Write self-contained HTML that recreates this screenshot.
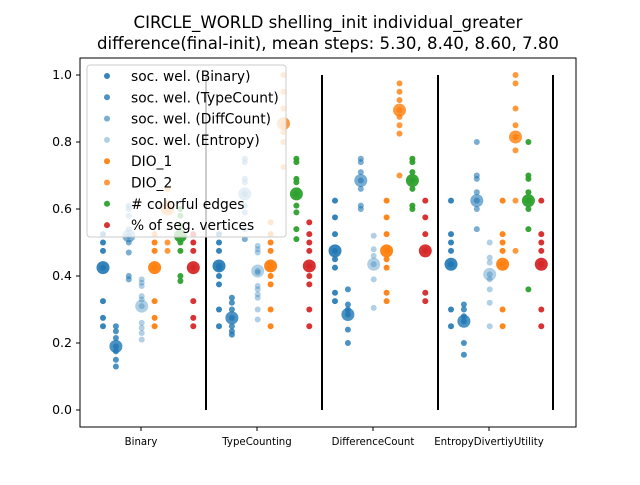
<!DOCTYPE html>
<html><head><meta charset="utf-8"><style>
body{margin:0;background:#fff;}
svg text{font-family:"DejaVu Sans","Liberation Sans",sans-serif;fill:#000;}
</style></head><body>
<svg id="chart" width="640" height="480" xmlns="http://www.w3.org/2000/svg">
<rect width="640" height="480" fill="#fff"/>
<text x="328" y="28" font-size="16.6" text-anchor="middle">CIRCLE_WORLD shelling_init individual_greater</text>
<text x="328" y="49" font-size="16.6" text-anchor="middle">difference(final-init), mean steps: 5.30, 8.40, 8.60, 7.80</text>
<g id="marks"></g>
<rect x="80" y="58" width="496" height="369" fill="none" stroke="#000" stroke-width="1"/>
<g id="axes"></g>
<g id="legend"></g>
</svg>
<script>
const groups = ["Binary","TypeCounting","DifferenceCount","EntropyDivertiyUtility"];
const seriesNames = ["soc. wel. (Binary)","soc. wel. (TypeCount)","soc. wel. (DiffCount)","soc. wel. (Entropy)","DIO_1","DIO_2","# colorful edges","% of seg. vertices"];
const yTicks = [0.0,0.2,0.4,0.6,0.8,1.0];
const yTickLabels = ["0.0","0.2","0.4","0.6","0.8","1.0"];
const valsBinary = [
 [0.525,0.5,0.475,0.425,0.325,0.275,0.25],
 [0.25,0.235,0.215,0.19,0.175,0.15,0.13],
 [0.61,0.6,0.58,0.54,0.52,0.5,0.47,0.4,0.39],
 [0.39,0.38,0.37,0.34,0.33,0.31,0.26,0.245,0.23,0.21],
 [0.525,0.5,0.475,0.425,0.325,0.275,0.25],
 [0.66,0.62,0.6,0.5,0.475],
 [0.6,0.58,0.55,0.5,0.475,0.4,0.385],
 [0.525,0.5,0.475,0.425,0.325,0.275,0.25]];
const valsTypeCounting = [
 [0.525,0.5,0.475,0.43,0.425,0.4,0.375,0.3,0.25],
 [0.335,0.32,0.3,0.275,0.25,0.235,0.225],
 [0.75,0.74,0.69,0.68,0.645,0.61,0.59,0.54,0.51],
 [0.49,0.48,0.47,0.415,0.41,0.37,0.36,0.345,0.335,0.3,0.27],
 [0.56,0.525,0.5,0.475,0.43,0.425,0.4,0.375,0.3,0.25],
 [1.0,0.95,0.9,0.855,0.845,0.83,0.8,0.725],
 [0.75,0.74,0.69,0.68,0.645,0.61,0.59,0.54,0.51],
 [0.56,0.525,0.5,0.475,0.43,0.4,0.375,0.3,0.25]];
const valsDifferenceCount = [
 [0.625,0.575,0.525,0.475,0.45,0.425,0.35,0.325],
 [0.36,0.315,0.3,0.285,0.24,0.2],
 [0.75,0.74,0.71,0.685,0.66,0.61,0.6],
 [0.52,0.48,0.46,0.435,0.39,0.305],
 [0.625,0.575,0.525,0.475,0.45,0.425,0.35,0.325],
 [0.975,0.95,0.925,0.895,0.875,0.85,0.825,0.7],
 [0.75,0.74,0.71,0.685,0.66,0.61,0.6],
 [0.625,0.575,0.525,0.475,0.35,0.325]];
const valsEntropy = [
 [0.625,0.525,0.5,0.475,0.435,0.3,0.25],
 [0.315,0.3,0.28,0.265,0.2,0.165],
 [0.8,0.7,0.69,0.65,0.625,0.6,0.54],
 [0.5,0.455,0.44,0.405,0.39,0.36,0.32,0.25],
 [0.625,0.525,0.5,0.475,0.435,0.3,0.25],
 [1.0,0.975,0.9,0.85,0.815,0.775,0.625,0.475],
 [0.8,0.7,0.69,0.65,0.625,0.6,0.54,0.36],
 [0.625,0.525,0.5,0.475,0.435,0.3,0.25]];
const meansBinary = [0.425,0.19,0.52,0.31,0.425,0.6,0.52,0.425];
const meansTypeCounting = [0.43,0.275,0.645,0.415,0.43,0.855,0.645,0.43];
const meansDifferenceCount = [0.475,0.285,0.685,0.435,0.475,0.895,0.685,0.475];
const meansEntropy = [0.435,0.265,0.625,0.405,0.435,0.815,0.625,0.435];
const allVals = [valsBinary,valsTypeCounting,valsDifferenceCount,valsEntropy];
const allMeans = [meansBinary,meansTypeCounting,meansDifferenceCount,meansEntropy];

const colors = ["#1f77b4","#1f77b4","#1f77b4","#1f77b4","#ff7f0e","#ff7f0e","#2ca02c","#d62728"];
const alphas = [0.9,0.8,0.6,0.35,0.95,0.8,0.95,0.95];
const NS = "http://www.w3.org/2000/svg";
function yS(v){return 410 - v*335;}
function gX(i){return 140 + i*116;}
function sX(gi,si){return gX(gi) - 37 + si*12.9;}
function mk(tag,attrs,parent){const e=document.createElementNS(NS,tag);for(const k in attrs)e.setAttribute(k,attrs[k]);parent.appendChild(e);return e;}
const marks=document.getElementById('marks');
const axes=document.getElementById('axes');
const legend=document.getElementById('legend');
for(let s=1;s<groups.length;s++){
  const x=(gX(s-1)+gX(s))/2+8;
  const l=mk('line',{x1:x,x2:x,y1:yS(1.0),y2:yS(0),stroke:'#000','stroke-width':2},marks);
  
  
}
const lastX=gX(3)+65;
const ll=mk('line',{x1:lastX,x2:lastX,y1:yS(1.0),y2:yS(0),stroke:'#000','stroke-width':2},marks);


allVals.forEach((gv,gi)=>{
  gv.forEach((arr,si)=>{
    arr.forEach(v=>{
      const c=mk('circle',{cx:sX(gi,si),cy:yS(v),r:3,fill:colors[si],'fill-opacity':alphas[si]},marks);
      
      
    });
    const m=mk('circle',{cx:sX(gi,si),cy:yS(allMeans[gi][si]),r:6.5,fill:colors[si],'fill-opacity':alphas[si]},marks);
    
    
  });
});
yTicks.forEach((t,i)=>{
  const l=mk('line',{x1:76,x2:80,y1:yS(t),y2:yS(t),stroke:'#000'},axes);
  
  
  const tx=mk('text',{x:72,y:yS(t)+4,'font-size':12.5,'text-anchor':'end'},axes);
  tx.textContent=yTickLabels[i];
  
  
});
groups.forEach((g,i)=>{
  const x=gX(i)+1;
  const l=mk('line',{x1:x,x2:x,y1:427,y2:431,stroke:'#000'},axes);
  
  
  const tx=mk('text',{x:x,y:445,'font-size':10.2,'text-anchor':'middle'},axes);
  tx.textContent=g;
  
  
});
const lb=mk('rect',{x:87,y:65,width:199,height:172,rx:3,fill:'#fff','fill-opacity':0.8,stroke:'#ccc'},legend);


seriesNames.forEach((n,i)=>{
  const y=76+i*21.3;
  const c=mk('circle',{cx:107,cy:y,r:3,fill:colors[i],'fill-opacity':alphas[i]},legend);
  
  
  const t=mk('text',{x:131,y:y+5,'font-size':13.8},legend);
  t.textContent=n;
  
  
});
</script>
</body></html>
